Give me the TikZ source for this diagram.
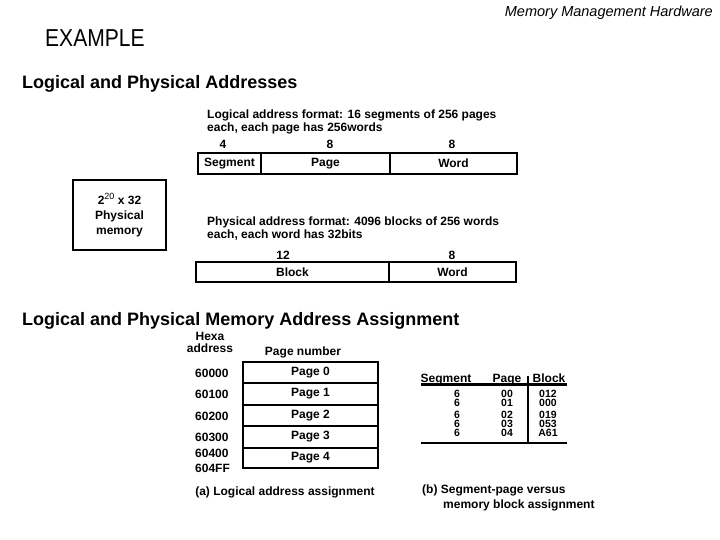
\documentclass[tikz,border=0pt]{standalone}
\usepackage{fontspec}
\setmainfont{Liberation Sans}
\usetikzlibrary{positioning}

\begin{document}
\begin{tikzpicture}
[x=1pt, y=-1pt, inner sep=0pt,
 font=\bfseries\fontsize{12}{14}\selectfont,
 field/.style={draw, line width=2.5pt},
 txt/.style={anchor=base west},
 cell/.style={anchor=base, font=\bfseries\fontsize{10.5}{10.5}\selectfont},
 head/.style={anchor=base west, font=\bfseries\fontsize{18}{20}\selectfont},
 rule/.style={line width=2.8pt}]
\useasboundingbox (0,0) rectangle (720,540);

\node (hdr) at (713,17)[anchor=base east, font=\itshape\fontsize{14.5}{16}\selectfont] {Memory Management Hardware};
\node (ex) at (45,47)[anchor=base west, xscale=0.86, transform shape, font=\fontsize{24.5}{26}\selectfont] {EXAMPLE};
\node (h1) at (22,88.5)[head] {Logical and Physical Addresses};

% logical address
\node (lf1) at (207,118.5)[txt] {Logical address format: 16 segments of 256 pages};
\node (lf2) at (207,131.5)[txt] {each, each page has 256words};
\node (n4) at (223,148.5)[anchor=base] {4};
\node (n8a) at (330,148.5)[anchor=base] {8};
\node (n8b) at (452,148.5)[anchor=base] {8};
\node (seg) at (229.5,163.5)[field, minimum width=63, minimum height=21] {Segment};
\node (pg) at (325.5,163.5)[field, minimum width=129, minimum height=21] {Page};
\node (wd) at (453.5,163.5)[field, minimum width=127, minimum height=21] {Word};

\node (mem) at (119.5,215)[field, minimum width=93, minimum height=70, align=center,
  font=\bfseries\fontsize{12}{15}\selectfont]
  {2\raisebox{5pt}{\mdseries\fontsize{9}{9}\selectfont 20} x 32\\Physical\\memory};

% physical address
\node (pf1) at (207,225.5)[txt] {Physical address format: 4096 blocks of 256 words};
\node (pf2) at (207,238)[txt] {each, each word has 32bits};
\node (n12) at (283,259)[anchor=base] {12};
\node (n8c) at (452,259)[anchor=base] {8};
\node (blk) at (292.5,272)[field, minimum width=193, minimum height=20] {Block};
\node (wd2) at (452.5,272)[field, minimum width=127, minimum height=20] {Word};

\node (h2) at (22,325.5)[head] {Logical and Physical Memory Address Assignment};

% (a) pages
\node (hx1) at (210,340)[anchor=base] {Hexa};
\node (hx2) at (210,352)[anchor=base] {address};
\node (pn) at (303,355)[anchor=base] {Page number};
\node (p0) at (310.5,372.5)[field, minimum width=135, minimum height=21] {Page 0};
\node (p1) at (310.5,394)[field, minimum width=135, minimum height=22] {Page 1};
\node (p2) at (310.5,415.5)[field, minimum width=135, minimum height=21] {Page 2};
\node (p3) at (310.5,437)[field, minimum width=135, minimum height=22] {Page 3};
\node (p4) at (310.5,458)[field, minimum width=135, minimum height=20] {Page 4};
\node (a0) at (195,377)[txt] {60000};
\node (a1) at (195,398)[txt] {60100};
\node (a2) at (195,420)[txt] {60200};
\node (a3) at (195,441)[txt] {60300};
\node (a4) at (195,457)[txt] {60400};
\node (a5) at (195,472)[txt] {604FF};
\node (capa) at (285,495)[anchor=base] {(a) Logical address assignment};

% (b) table
\node (tseg) at (446,382)[anchor=base] {Segment};
\node (tpg) at (507,382)[anchor=base] {Page};
\node (tblk) at (549,382)[anchor=base] {Block};
\foreach \y/\p/\b in {397/00/012, 406/01/000, 418/02/019, 427/03/053, 436/04/A61}{
  \node at (457,\y)[cell] {6};
  \node at (507,\y)[cell] {\p};
  \node at (548,\y)[cell] {\b};
}
\coordinate (tl) at (421,384.5);
\coordinate (tr) at (567,384.5);
\coordinate (bl) at (421,443);
\coordinate (br) at (567,443);
\draw[rule] (tl) -- (tr);
\draw[rule] (bl) -- (br);
\draw[rule] (528,376) -- (528,443);
\node (capb1) at (422,493)[txt] {(b) Segment-page versus};
\node (capb2) at (443,508)[txt] {memory block assignment};

\end{tikzpicture}
\end{document}
